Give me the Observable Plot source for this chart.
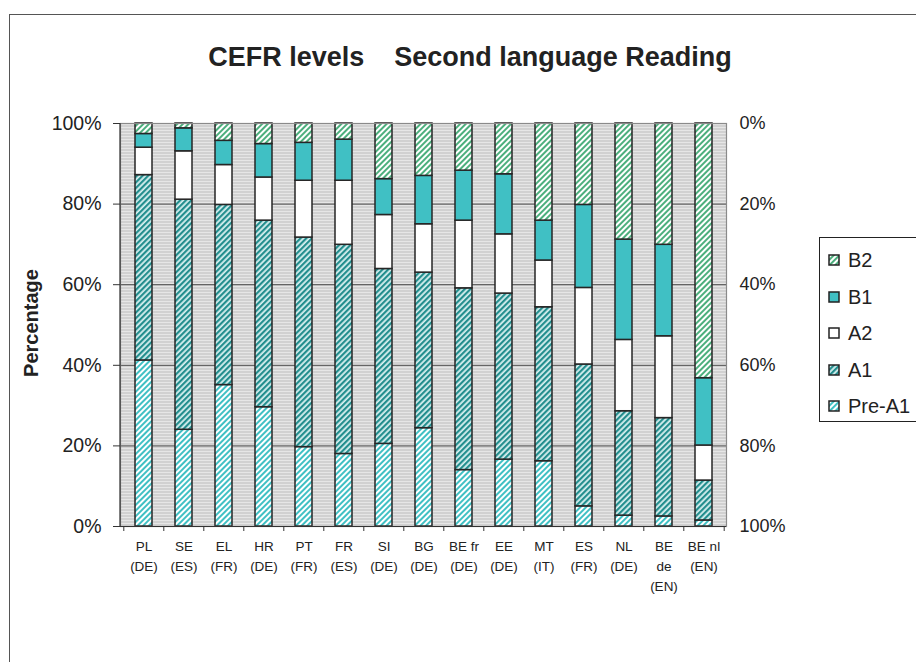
<!DOCTYPE html>
<html>
<head>
<meta charset="utf-8">
<script src="https://cdn.jsdelivr.net/npm/d3@7"></script>
<script src="https://cdn.jsdelivr.net/npm/@observablehq/plot@0.6"></script>
<style>
  html, body { margin: 0; padding: 0; background: #fff; overflow: hidden; }
  body { width: 916px; height: 662px; position: relative; font-family: Arial, "Liberation Sans", sans-serif; color: #222; }
  #frame { position: absolute; left: 9px; top: 14px; width: 960px; height: 700px; border: 1.5px solid #555; box-sizing: border-box; }
  #title { position: absolute; left: 0; top: 41px; width: 940px; text-align: center; font-size: 27px; font-weight: bold; white-space: pre; line-height: 32px; }
  #ylabel { position: absolute; left: 31px; top: 323px; transform: translate(-50%, -50%) rotate(-90deg); font-size: 20px; font-weight: bold; white-space: nowrap; }
  #chart { position: absolute; left: 0; top: 0; }
  #legend { position: absolute; left: 819px; top: 237px; width: 130px; height: 185px; border: 1px solid #222; box-sizing: border-box; background: #fff; }
  .item { position: absolute; left: 0; height: 24px; white-space: nowrap; }
  .item svg { position: absolute; left: 8px; top: 6px; }
  .item span { position: absolute; left: 28px; top: 0; font-size: 20px; line-height: 24px; white-space: nowrap; }
</style>
</head>
<body>
<svg width="0" height="0" style="position:absolute">
  <defs>
    <pattern id="pBg" patternUnits="userSpaceOnUse" width="4" height="3">
      <rect width="4" height="3" fill="#e6e6e6"/>
      <rect y="2" width="4" height="1" fill="#bcbcbc"/>
    </pattern>
    <pattern id="pB2" patternUnits="userSpaceOnUse" width="4" height="4" patternTransform="rotate(45)">
      <rect width="4" height="4" fill="#ffffff"/>
      <rect width="2" height="4" fill="#4caf7d"/>
    </pattern>
    <pattern id="pA1" patternUnits="userSpaceOnUse" width="4" height="4" patternTransform="rotate(45)">
      <rect width="4" height="4" fill="#d8f0f0"/>
      <rect width="2.2" height="4" fill="#238e8e"/>
    </pattern>
    <pattern id="pPre" patternUnits="userSpaceOnUse" width="4" height="4" patternTransform="rotate(45)">
      <rect width="4" height="4" fill="#ffffff"/>
      <rect width="2" height="4" fill="#40c0c4"/>
    </pattern>
  </defs>
</svg>
<div id="frame"></div>
<div id="chart"></div>
<div id="title">CEFR levels    Second language Reading</div>
<div id="ylabel">Percentage</div>
<div id="legend"></div>
<script>
// ---- data ----
const categories = ["PL\n(DE)", "SE\n(ES)", "EL\n(FR)", "HR\n(DE)", "PT\n(FR)", "FR\n(ES)", "SI\n(DE)", "BG\n(DE)", "BE fr\n(DE)", "EE\n(DE)", "MT\n(IT)", "ES\n(FR)", "NL\n(DE)", "BE\nde\n(EN)", "BE nl\n(EN)"];
const levels = ["Pre-A1", "A1", "A2", "B1", "B2"];
const preA1 = [41.2, 24.0, 35.1, 29.6, 19.7, 18.0, 20.5, 24.4, 14.0, 16.6, 16.2, 5.0, 2.7, 2.5, 1.5];
const a1    = [46.0, 57.1, 44.7, 46.3, 52.0, 51.9, 43.4, 38.6, 45.1, 41.2, 38.2, 35.2, 25.9, 24.4, 9.9];
const a2    = [6.8, 12.0, 9.9, 10.7, 14.1, 15.9, 13.4, 12.0, 16.8, 14.7, 11.6, 19.0, 17.7, 20.3, 8.7];
const b1    = [3.4, 5.7, 6.0, 8.3, 9.4, 10.2, 8.9, 12.0, 12.4, 14.9, 9.9, 20.6, 24.9, 22.7, 16.7];
const b2    = [2.6, 1.2, 4.3, 5.1, 4.8, 4.0, 13.8, 13.0, 11.7, 12.6, 24.1, 20.2, 28.8, 30.1, 63.2];
const leftTicks = [0, 20, 40, 60, 80, 100];
const gridValues = [20, 40, 60, 80];

const seriesByLevel = {"Pre-A1": preA1, "A1": a1, "A2": a2, "B1": b1, "B2": b2};
const fills = {"Pre-A1": "url(#pPre)", "A1": "url(#pA1)", "A2": "#ffffff", "B1": "#40c0c4", "B2": "url(#pB2)"};

const rows = [];
categories.forEach((c, i) => {
  levels.forEach(l => rows.push({country: c, level: l, value: seriesByLevel[l][i]}));
});

const W = 916, H = 662;
const mL = 120, mR = W - 726, mT = 123, mB = H - 526;
const step = (W - mL - mR) / categories.length;

const plot = Plot.plot({
  width: W,
  height: H,
  marginLeft: mL,
  marginRight: mR,
  marginTop: mT,
  marginBottom: mB,
  style: {fontFamily: 'Arial, "Liberation Sans", sans-serif', color: "#222", background: "transparent", overflow: "visible"},
  x: {domain: categories, paddingInner: 0.58, paddingOuter: 0.29, label: null},
  y: {domain: [0, 100], label: null},
  color: {type: "ordinal", domain: levels, range: levels.map(l => fills[l])},
  marks: [
    Plot.frame({fill: "#e6e6e6", stroke: null}),
    Plot.ruleY(gridValues, {stroke: "#4a4a4a", strokeWidth: 1}),
    Plot.barY(rows, {x: "country", y: "value", fill: "level", order: levels, stroke: "#262626", strokeWidth: 1.5}),
    Plot.frame({stroke: "#8a8a8a", strokeWidth: 1.2}),
    Plot.ruleY([0], {stroke: "#333", strokeWidth: 1.2}),
    Plot.axisY({ticks: leftTicks, tickFormat: d => d + "%", tickSize: 7, tickPadding: 12, fontSize: 19.5, label: null, stroke: "#333"}),
    Plot.axisY({anchor: "right", ticks: leftTicks, tickFormat: d => (100 - d) + "%", tickSize: 0, tickPadding: 13, fontSize: 18, label: null}),
    Plot.axisX({tickSize: 0, tickPadding: 11, fontSize: 13.5, lineHeight: 1.45, label: null}),
    Plot.axisX({tickSize: 5, tickFormat: () => "", dx: -step / 2, label: null, stroke: "#333"}),
    Plot.axisX([categories[categories.length - 1]], {tickSize: 5, tickFormat: () => "", dx: step / 2, label: null, stroke: "#333"})
  ]
});

// background stripes on the first frame
const fr = plot.querySelector('[aria-label="frame"]');
if (fr) fr.setAttribute("fill", "url(#pBg)");
document.getElementById("chart").appendChild(plot);

// left axis line
d3.select(plot).append("line")
  .attr("x1", mL).attr("x2", mL).attr("y1", mT).attr("y2", H - mB)
  .attr("stroke", "#333").attr("stroke-width", 1.2);

// legend
const legend = document.getElementById("legend");
const legendOrder = ["B2", "B1", "A2", "A1", "Pre-A1"];
legendOrder.forEach((l, i) => {
  const div = document.createElement("div");
  div.className = "item";
  div.style.top = (10 + i * 36.5) + "px";
  div.innerHTML = `<svg width="12" height="12"><rect x="1" y="1" width="10" height="10" fill="${fills[l]}" stroke="#222" stroke-width="1.5"/></svg><span>${l}</span>`;
  legend.appendChild(div);
});
</script>
</body>
</html>
